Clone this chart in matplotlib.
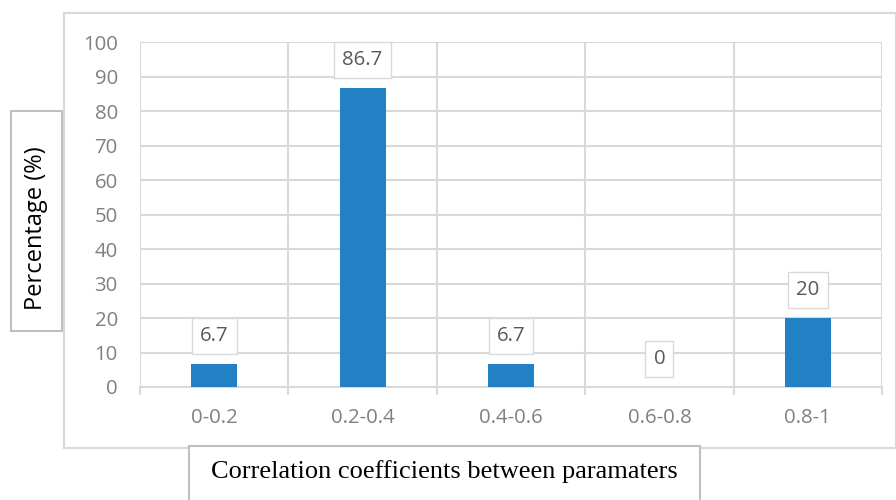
import matplotlib.pyplot as plt
from matplotlib.patches import Rectangle

# Data
categories = ["0-0.2", "0.2-0.4", "0.4-0.6", "0.6-0.8", "0.8-1"]
values = [6.7, 86.7, 6.7, 0, 20]
value_labels = ["6.7", "86.7", "6.7", "0", "20"]
yticks = [0, 10, 20, 30, 40, 50, 60, 70, 80, 90, 100]

grid_color = '#d9d9d9'
text_gray = '#808080'
bar_color = '#2281c4'

fig = plt.figure(figsize=(8.96, 5), dpi=100)
plt.rcParams['font.family'] = ['Open Sans', 'DejaVu Sans']

# outer chart border
fig.patches.append(Rectangle((64/896, 1-448/500), 1-64/896, 435/500, transform=fig.transFigure,
                             facecolor='white', edgecolor=grid_color, linewidth=1.5, zorder=-1))

ax = fig.add_axes([140/896, 1-387/500, 742/896, 345/500])
ax.set_facecolor('none')
ax.set_zorder(2)

x = range(len(categories))
ax.bar(x, values, width=0.31, color=bar_color, zorder=3)

for xi, v, lab in zip(x, values, value_labels):
    ax.annotate(lab, (xi, v), xytext=(0, 20), textcoords='offset points',
                ha='center', va='center', fontsize=14.7, color='#595959', zorder=4,
                bbox=dict(boxstyle='square,pad=0.4', facecolor='white', edgecolor=grid_color, linewidth=1))

ax.set_xlim(-0.5, len(categories) - 0.5)
ax.set_ylim(0, 100)
ax.set_yticks(yticks)
ax.set_xticks(list(x))
ax.set_xticklabels(categories)
ax.set_xticks([i - 0.5 for i in range(len(categories) + 1)], minor=True)

ax.tick_params(axis='y', length=0, pad=16, labelsize=14.7, labelcolor=text_gray)
ax.tick_params(axis='x', which='major', length=0, pad=15, labelsize=14.7, labelcolor=text_gray)
ax.tick_params(axis='x', which='minor', length=6, width=1.5, color=grid_color)

ax.grid(True, axis='y', color=grid_color, linewidth=1.5, zorder=0)
ax.grid(True, axis='x', which='minor', color=grid_color, linewidth=1.5, zorder=0)
for s in ['top', 'right', 'left']:
    ax.spines[s].set_visible(False)
ax.spines['bottom'].set_color(grid_color)
ax.spines['bottom'].set_linewidth(1.5)

# y label in its own box
fig.patches.append(Rectangle((11/896, 1-331/500), 51/896, 220/500, transform=fig.transFigure,
                             facecolor='white', edgecolor='#bfbfbf', linewidth=1.5, zorder=1))
fig.text(36.5/896, 1-228/500, 'Percentage (%)', rotation=90, ha='center', va='center',
         fontsize=17, color='black')

# x label in its own box
fig.patches.append(Rectangle((189/896, -0.02), 511/896, 0.02 + 1-446/500, transform=fig.transFigure,
                             facecolor='white', edgecolor='#bfbfbf', linewidth=1.5, zorder=1))
fig.text(444/896, 1-472/500, 'Correlation coefficients between paramaters', ha='center', va='center',
         fontsize=19, color='black', family=['Liberation Serif', 'DejaVu Serif'])

plt.savefig('out.png', dpi=100)
